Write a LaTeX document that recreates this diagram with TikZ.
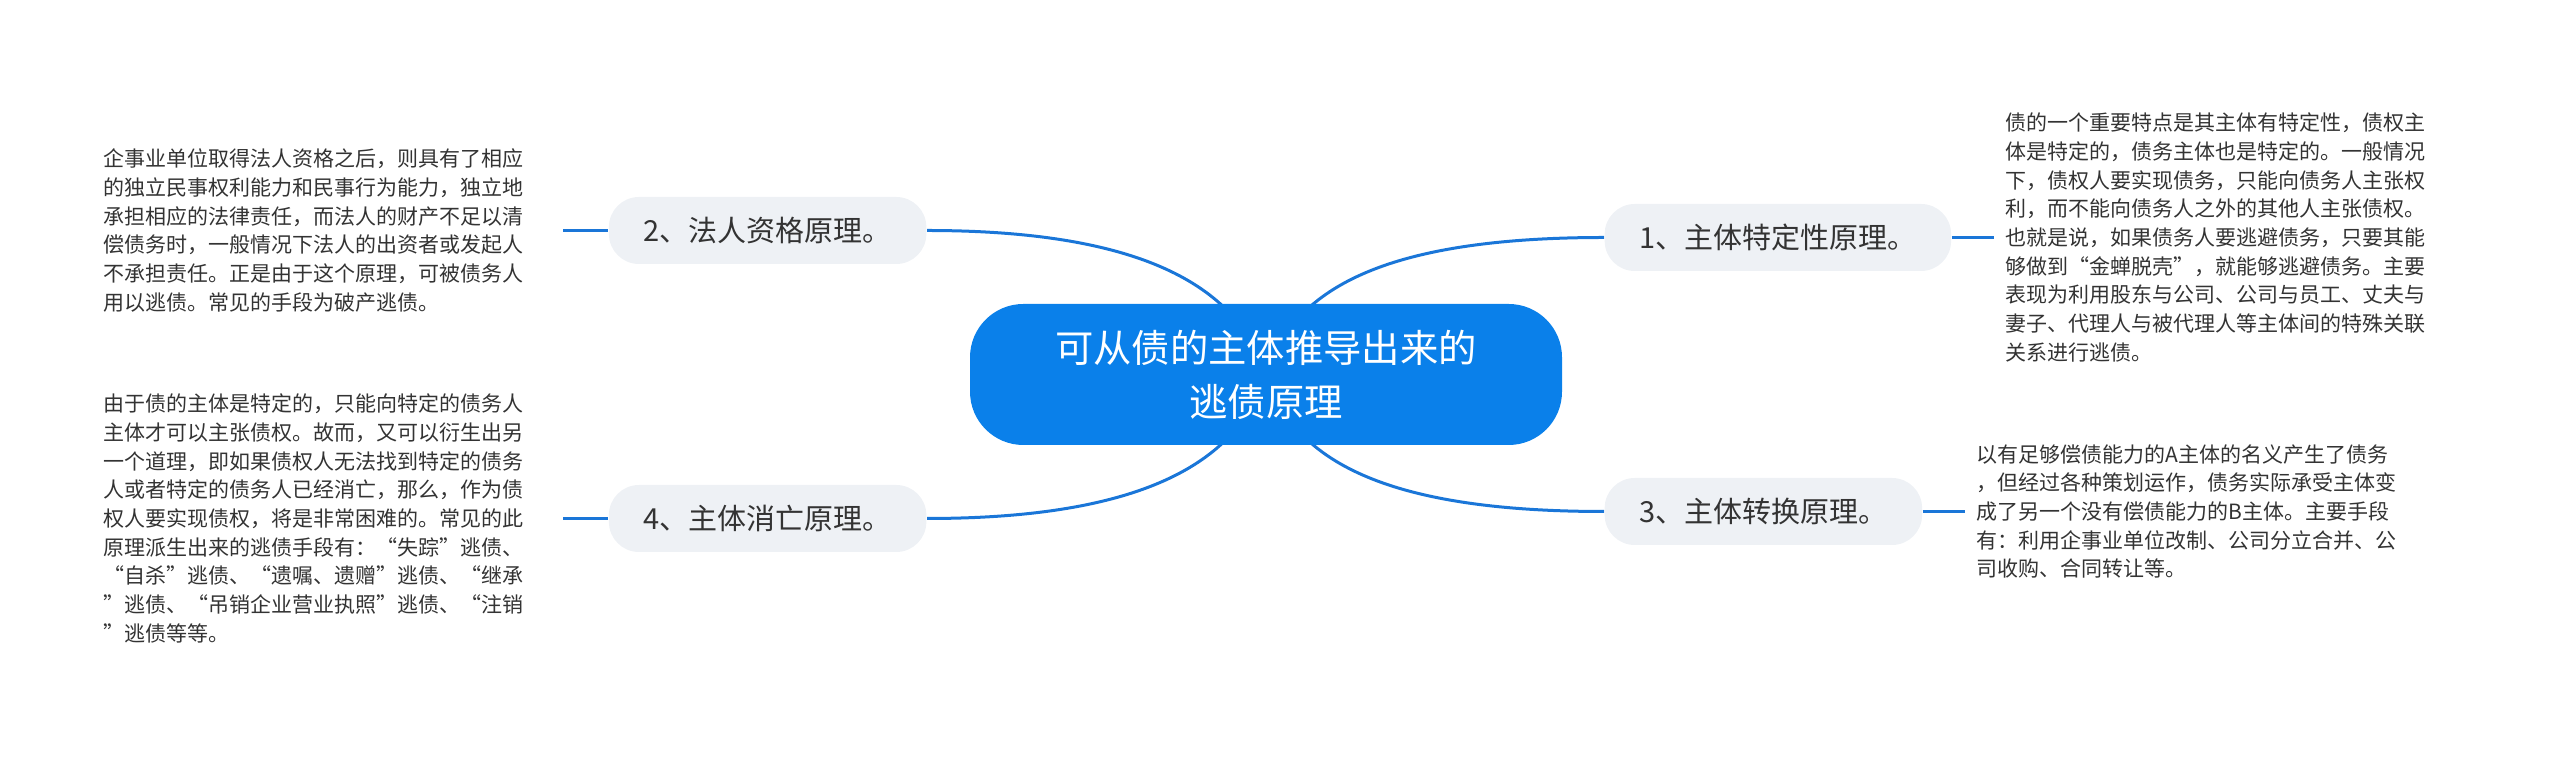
\documentclass[tikz,border=0pt]{standalone}
\usepackage{fontspec}
\setmainfont{Noto Sans CJK SC}
\usetikzlibrary{positioning,backgrounds}
\definecolor{rootblue}{HTML}{0A80EA}
\definecolor{branchblue}{HTML}{1A76D8}
\definecolor{topicgrey}{HTML}{EEF1F5}
\definecolor{textgrey}{HTML}{333333}
\newcommand{\rootcolor}{rootblue}
\newcommand{\branchcolor}{branchblue}
\newcommand{\topiccolor}{topicgrey}
\newcommand{\desccolor}{textgrey}

\begin{document}
\begin{tikzpicture}[x=0.3pt, y=-0.3pt,
    root/.style={fill=\rootcolor, text=white, rounded corners=16pt, minimum width=177.6pt, minimum height=42.3pt, align=center, font=\fontsize{11.5pt}{16.2pt}\selectfont},
    topic/.style={fill=\topiccolor, text=\desccolor, rounded corners=9pt, minimum height=20.1pt, inner xsep=10.4pt, font=\fontsize{8.7pt}{10pt}\selectfont},
    desc/.style={text=\desccolor, align=left, inner ysep=0pt, font=\fontsize{6.3pt}{8.6pt}\selectfont},
    branch/.style={draw=\branchcolor, line width=0.9pt}]
    \useasboundingbox (0,0) rectangle (2560,757);

    % root and topics
    \node [root] (ctr) at (1266,374.5) {可从债的主体推导出来的\\逃债原理};
    \node [topic, anchor=west] (n1) at (1604,237.5) {1、主体特定性原理。};
    \node [topic, anchor=east] (n2) at (927,230.5) {2、法人资格原理。};
    \node [topic, anchor=west] (n3) at (1604,511.5) {3、主体转换原理。};
    \node [topic, anchor=east] (n4) at (927,518.5) {4、主体消亡原理。};

    % descriptions
    \node [desc, inner xsep=3.3pt, right=12.6pt of n1] (d1) {债的一个重要特点是其主体有特定性，债权主\\体是特定的，债务主体也是特定的。一般情况\\下，债权人要实现债务，只能向债务人主张权\\利，而不能向债务人之外的其他人主张债权。\\也就是说，如果债务人要逃避债务，只要其能\\够做到“金蝉脱壳”，就能够逃避债务。主要\\表现为利用股东与公司、公司与员工、丈夫与\\妻子、代理人与被代理人等主体间的特殊关联\\关系进行逃债。};
    \node [desc, inner xsep=0pt, text width=137.7pt, left=13.5pt of n2] (d2) {企事业单位取得法人资格之后，则具有了相应\\的独立民事权利能力和民事行为能力，独立地\\承担相应的法律责任，而法人的财产不足以清\\偿债务时，一般情况下法人的出资者或发起人\\不承担责任。正是由于这个原理，可被债务人\\用以逃债。常见的手段为破产逃债。};
    \node [desc, inner xsep=3.3pt, right=12.6pt of n3] (d3) {以有足够偿债能力的A主体的名义产生了债务\\，但经过各种策划运作，债务实际承受主体变\\成了另一个没有偿债能力的B主体。主要手段\\有：利用企事业单位改制、公司分立合并、公\\司收购、合同转让等。};
    \node [desc, inner xsep=0pt, text width=137.7pt, left=13.5pt of n4] (d4) {由于债的主体是特定的，只能向特定的债务人\\主体才可以主张债权。故而，又可以衍生出另\\一个道理，即如果债权人无法找到特定的债务\\人或者特定的债务人已经消亡，那么，作为债\\权人要实现债权，将是非常困难的。常见的此\\原理派生出来的逃债手段有：“失踪”逃债、\\“自杀”逃债、“遗嘱、遗赠”逃债、“继承\\”逃债、“吊销企业营业执照”逃债、“注销\\”逃债等等。};

    % branches
    \begin{scope}[on background layer]
    \draw [branch] (ctr.center) .. controls +(27,-84) and +(-223,0) .. (n1.west);
    \draw [branch] (ctr.center) .. controls +(-27,-84) and +(223,0) .. (n2.east);
    \draw [branch] (ctr.center) .. controls +(27,84) and +(-223,0) .. (n3.west);
    \draw [branch] (ctr.center) .. controls +(-27,84) and +(223,0) .. (n4.east);
    \end{scope}
    \draw [branch] (n1) -- (d1);
    \draw [branch] (d2) -- (n2);
    \draw [branch] (n3) -- (d3);
    \draw [branch] (d4) -- (n4);
\end{tikzpicture}
\end{document}
